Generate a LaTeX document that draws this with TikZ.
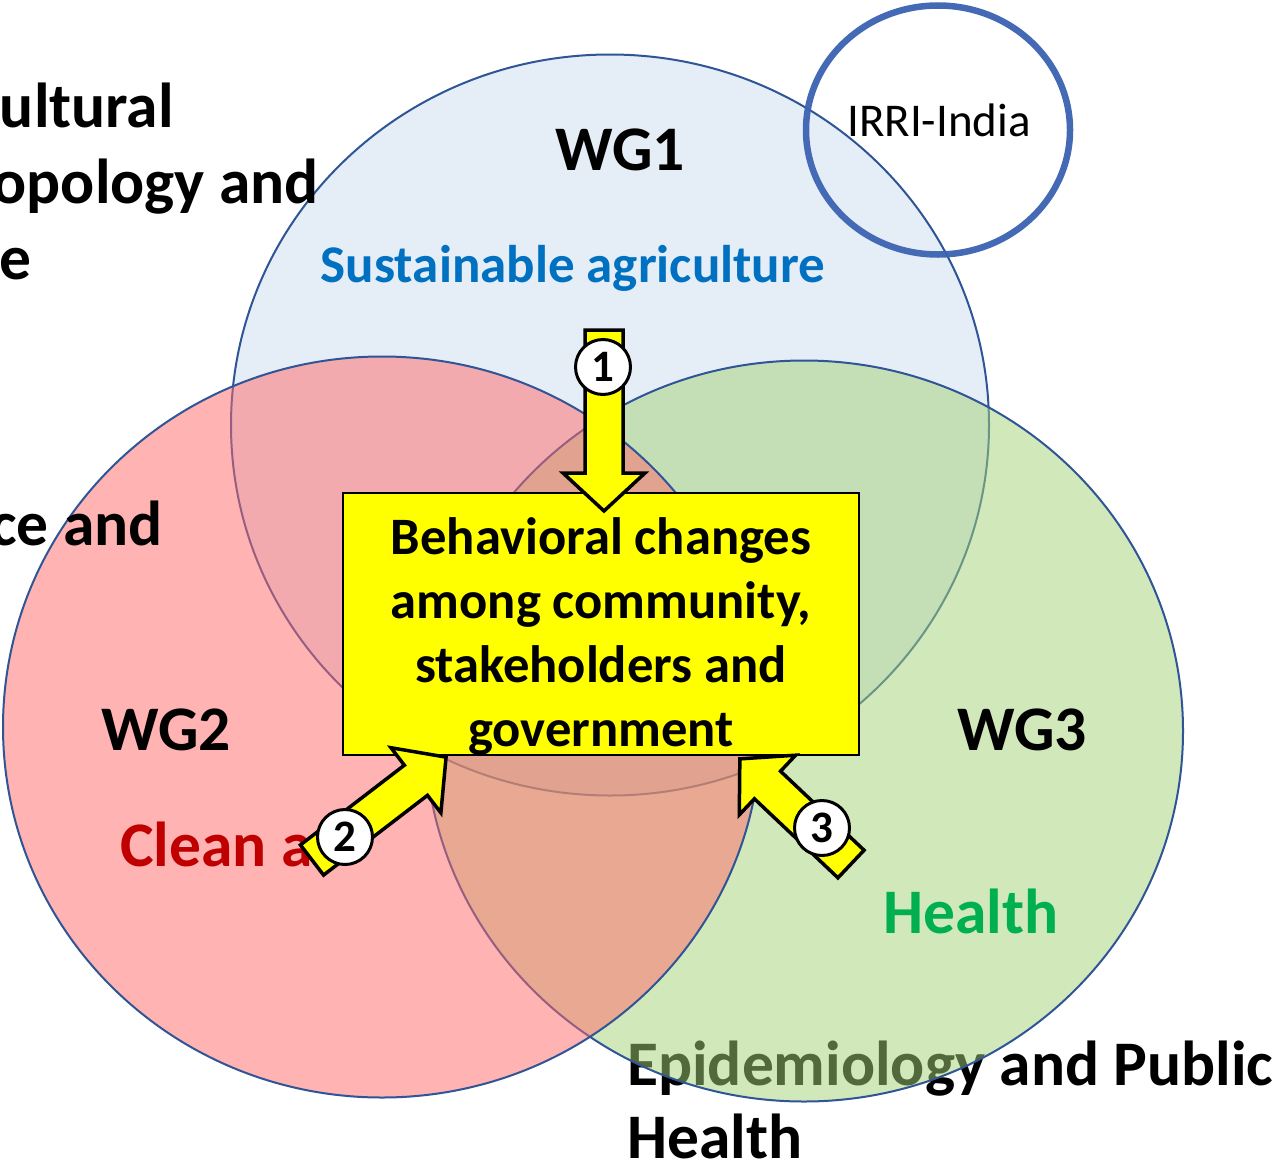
\documentclass[tikz,border=0pt]{standalone}
\usepackage{fontspec}
\setmainfont{Carlito}
\usetikzlibrary{shapes.geometric}
\definecolor{ringblue}{RGB}{47,85,151}
\definecolor{wgblue}{RGB}{205,221,241}
\definecolor{wgpink}{RGB}{255,105,105}
\definecolor{wggreen}{RGB}{165,211,118}
\definecolor{irriblue}{RGB}{60,99,178}
\definecolor{agblue}{RGB}{0,112,192}
\definecolor{airred}{RGB}{192,0,0}
\definecolor{hlgreen}{RGB}{0,176,80}
\definecolor{boxyellow}{RGB}{255,255,0}
% yellow block arrow helper (tail point, direction angle, length)
\newcommand\yarrow[3]{%
  \begin{scope}[shift={#1}, rotate=#2]
    \draw[blockarrow] (0,19) -- ({#3-38},19) -- ({#3-38},41) -- (#3,0)
      -- ({#3-38},-41) -- ({#3-38},-19) -- (0,-19) -- cycle;
  \end{scope}}
\begin{document}
\begin{tikzpicture}[x=1pt,y=-1pt,
  wg/.style={ellipse, draw=ringblue, line width=2pt, fill opacity=0.5,
    inner sep=0pt, minimum width=758, minimum height=741},
  big/.style={inner sep=0pt, font=\fontsize{63.5}{76}\selectfont\bfseries},
  blockarrow/.style={draw=black, line width=3.5pt, fill=boxyellow, line join=miter},
  badge/.style={circle, draw=black, line width=3pt, fill=white, minimum size=55pt,
    inner sep=0pt, font=\fontsize{45}{45}\selectfont\bfseries},
  goal/.style={draw=black, line width=1.5pt, fill=boxyellow, inner sep=0pt,
    minimum width=516pt, minimum height=262pt}]
\useasboundingbox (0,0) rectangle (1276,1167);
\fill[white] (0,0) rectangle (1276,1167);

% text lying beneath the WG3 circle
\node[big, anchor=base west] (epi1) at (627,1085) {Epidemiology and Public};
\node[big, anchor=base west] (epi2) at (627,1158) {Health};

% working group circles
\node[wg, fill=wgblue]  (wg1) at (610,425) {};
\node[wg, fill=wggreen] (wg3) at (804,731) {};
\node[wg, fill=wgpink]  (wg2) at (382,727) {};

% partner ring
\node[ellipse, draw=irriblue, line width=6.5pt, draw opacity=0.95, inner sep=0pt,
  minimum width=264pt, minimum height=249pt] (irri) at (938,130) {};
\node[inner sep=0pt, anchor=base, font=\fontsize{47}{47}\selectfont] (irritxt) at (939,136) {IRRI-India};

% labels
\node[big, anchor=base] (t1) at (620,170) {WG1};
\node[big, anchor=base, text=agblue, font=\fontsize{53}{64}\selectfont\bfseries] (t1b) at (573,282) {Sustainable agriculture};
\node[big, anchor=base] (t2) at (166,750) {WG2};
\node[big, anchor=base] (t3) at (1022,750) {WG3};
\node[big, anchor=base west, text=airred] (t2b) at (120,866) {Clean a};
\node[big, anchor=base west, text=hlgreen] (t3b) at (883,933) {Health};

\node[big, anchor=base east] (s1) at (174,127) {ultural};
\node[big, anchor=base east] (s2) at (319,203) {opology and};
\node[big, anchor=base east] (s3) at (32,279) {e};
\node[big, anchor=base east] (s4) at (163,545) {ce and};

% central outcome box
\node[goal] (box) at (601,624) {};
\node[inner sep=0pt, align=center, font=\fontsize{52.6}{64}\selectfont\bfseries] (boxtxt) at (601,636)
  {Behavioral changes\\among community,\\stakeholders and\\government};

% pathways into the box
\yarrow{(604,330)}{-90}{181}
\yarrow{(312,860)}{37.5}{169}
\yarrow{(851,864)}{136.6}{153}

\node[badge] (n1) at (603,367) {1};
\node[badge] (n2) at (345,837) {2};
\node[badge] (n3) at (822,828) {3};
\end{tikzpicture}
\end{document}
